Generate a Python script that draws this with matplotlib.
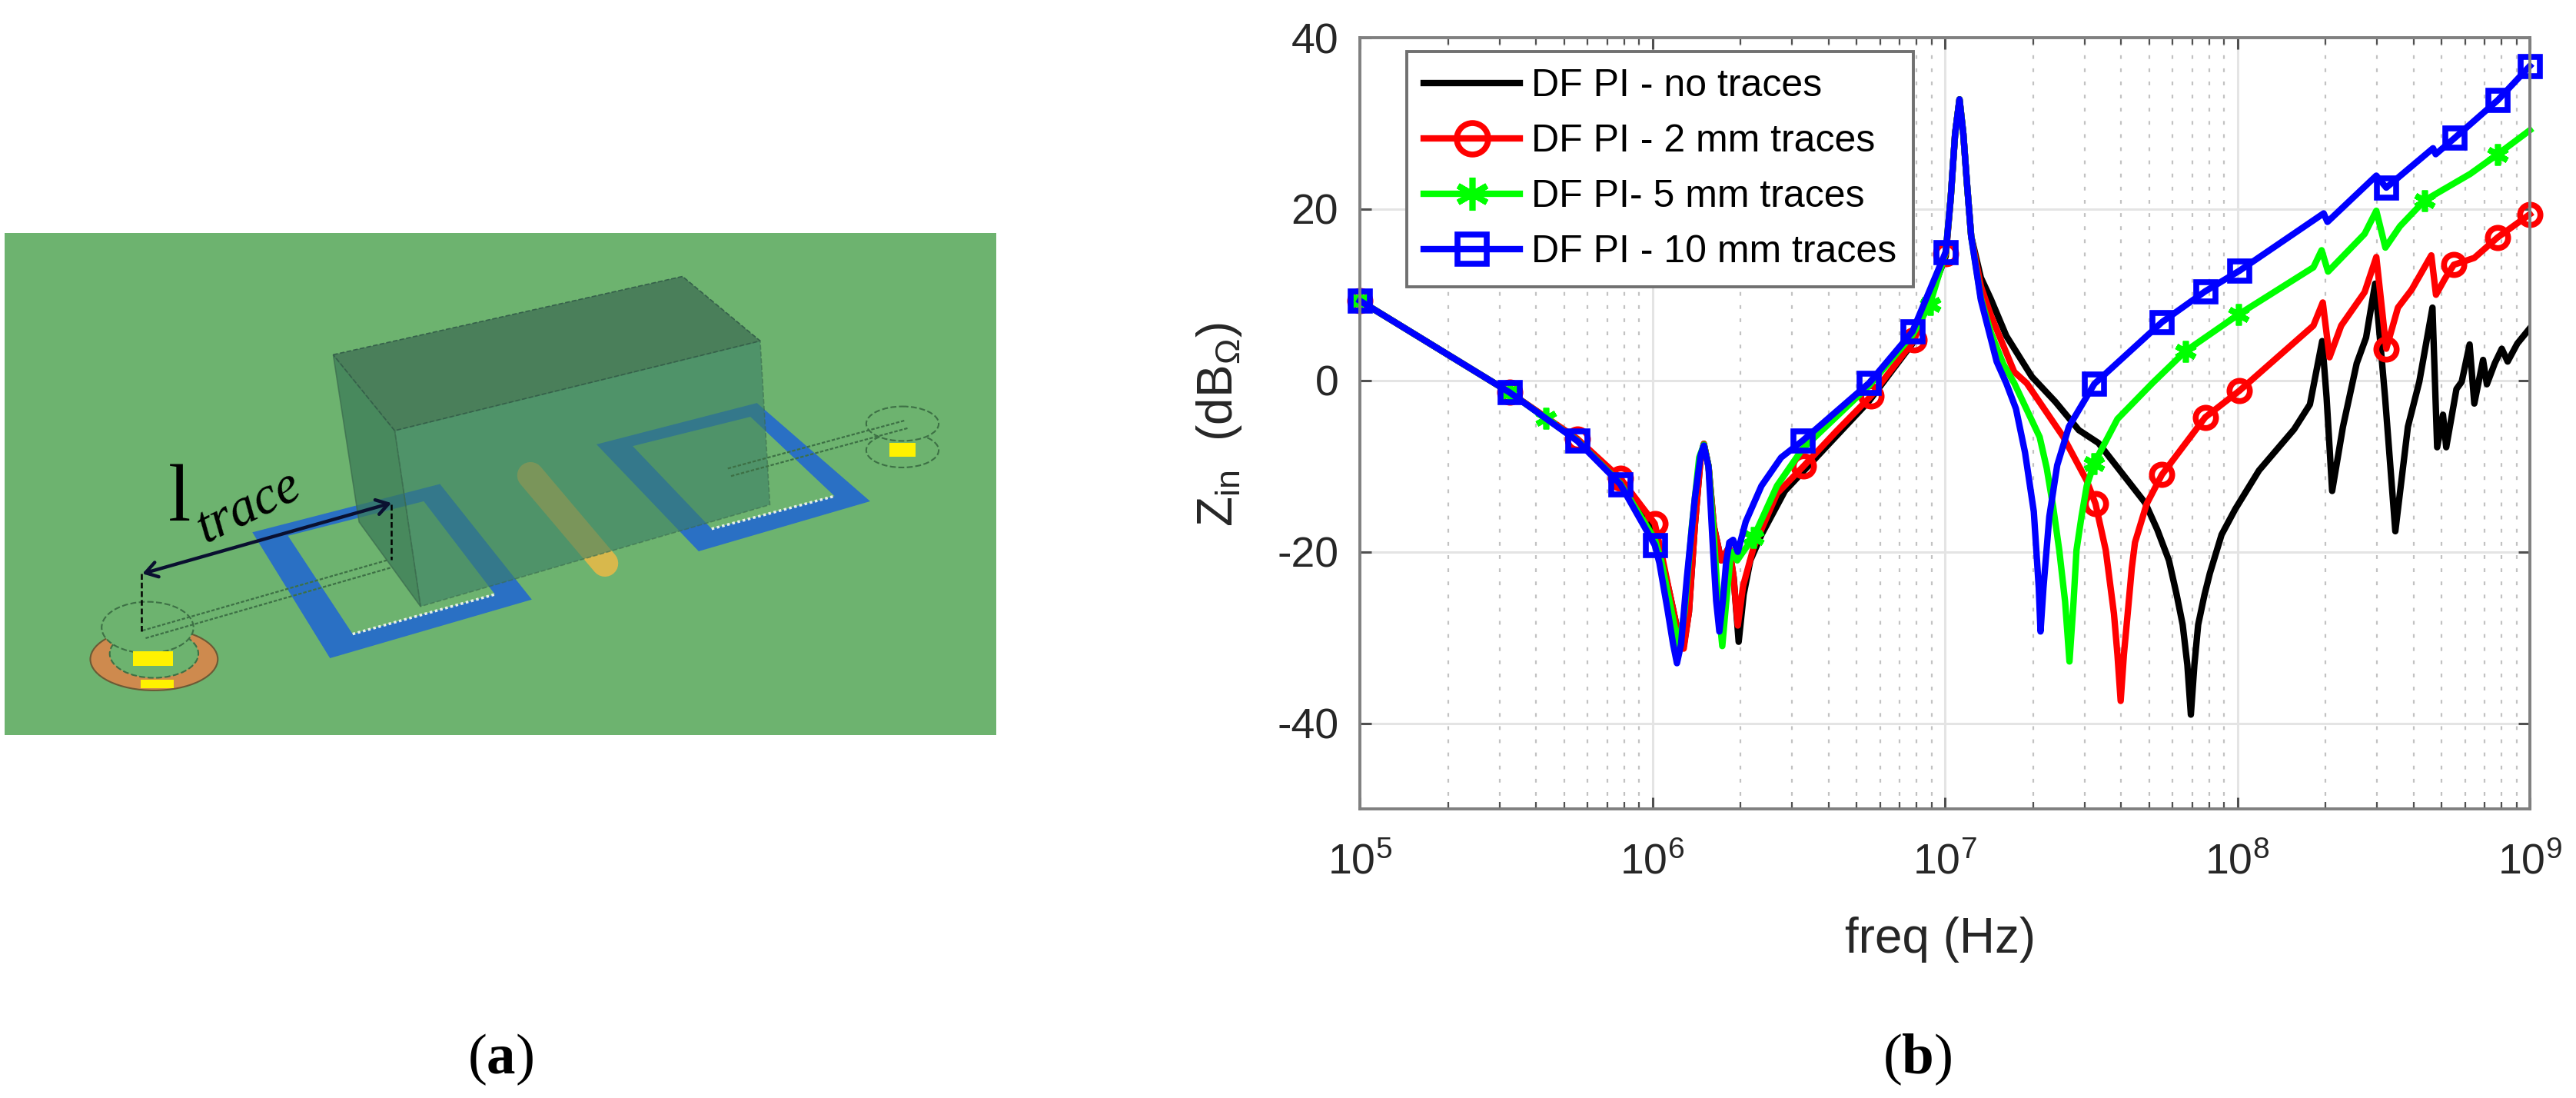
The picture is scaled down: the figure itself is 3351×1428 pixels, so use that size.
import numpy as np
import matplotlib
matplotlib.use("Agg")
import matplotlib.pyplot as plt
from matplotlib.patches import Polygon, Ellipse, PathPatch, Rectangle
from matplotlib.path import Path
from matplotlib.ticker import FixedLocator, FixedFormatter, NullFormatter

W, H = 3351, 1428

# curves: log10(freq in Hz) and Zin in dB
logf_black = [5.0, 5.512, 5.743, 5.89, 6.008, 6.03, 6.06, 6.085, 6.107, 6.125, 6.145, 6.165, 6.176, 6.192, 6.21, 6.235, 6.262, 6.278, 6.295,
              6.312, 6.335, 6.373, 6.453, 6.56, 6.741, 6.889, 7.003, 7.02, 7.035, 7.05, 7.063, 7.076, 7.09, 7.123, 7.157, 7.21, 7.297, 7.378, 7.458, 7.525,
              7.685, 7.726, 7.766, 7.793, 7.813, 7.829, 7.841, 7.853, 7.866, 7.887, 7.906, 7.946, 7.993, 8.074, 8.194, 8.248,
              8.29, 8.305, 8.324, 8.361, 8.408, 8.44, 8.471, 8.505, 8.54, 8.583, 8.622, 8.667, 8.683, 8.703, 8.714, 8.749, 8.767, 8.794,
              8.81, 8.84, 8.853, 8.88, 8.904, 8.924, 8.957, 9.0]
z_black = [9.3, -1.4, -6.9, -11.6, -17.5, -20.5, -25, -29, -31, -27, -17, -9, -7.4, -10, -17, -21, -19.5, -23, -30.5,
           -25, -21, -18, -12.9, -9, -2.4, 4.3, 14.5, 21.3, 28.8, 32.8, 28.8, 22.8, 16.8, 12, 9.5, 5.2, 0.45, -2.5, -5.8, -7.3,
           -14.3, -17.4, -21, -25.1, -28.5, -33.2, -39, -33.2, -28.5, -25.1, -22.5, -18, -15, -10.5, -5.7, -2.8,
           4.6, -2, -12.9, -5.4, 2, 5, 11.3, -2, -17.6, -5.4, -0.15, 8.5, -7.8, -4, -7.8, -1, -0.15, 4.2,
           -2.7, 2.4, -0.45, 2, 3.7, 2.2, 4.3, 6.1]

logf_red = [5.0, 5.512, 5.743, 5.89, 6.008, 6.03, 6.06, 6.085, 6.107, 6.125, 6.145, 6.165, 6.176, 6.192, 6.21, 6.235, 6.262, 6.276, 6.292,
            6.31, 6.346, 6.426, 6.517, 6.627, 6.748, 6.895, 7.003, 7.02, 7.035, 7.05, 7.063, 7.076, 7.09, 7.123, 7.157, 7.237, 7.28, 7.405, 7.485, 7.515,
            7.55, 7.578, 7.59, 7.601, 7.612, 7.625, 7.639, 7.65, 7.69, 7.742, 7.89, 8.007, 8.26, 8.292, 8.315, 8.355, 8.435, 8.475, 8.509,
            8.549, 8.596, 8.663, 8.679, 8.71, 8.74, 8.81, 8.89, 9.0]
z_red = [9.3, -1.4, -6.8, -11.4, -16.7, -20, -25, -29, -31.3, -27, -17, -9, -7.4, -10, -17, -21, -19.5, -22.5, -28.6,
         -24, -19.5, -13.2, -10, -6, -1.8, 4.7, 14.8, 21.3, 28.8, 32.8, 28.8, 22.8, 16.8, 11, 7.6, 1, -0.33, -6.6, -11.7, -14.4,
         -19.8, -27.2, -32, -37.4, -32, -27.2, -21.9, -18.9, -14.4, -11, -4.3, -1.2, 6.4, 9.1, 2.7, 6.4, 10.3, 14.4, 3.7,
         8.5, 10.6, 14.6, 10, 11.9, 13.5, 14.3, 16.7, 19.4]
mark_red = [5.0, 5.512, 5.743, 5.89, 6.008, 6.517, 6.748, 6.895, 7.003, 7.515, 7.742, 7.89, 8.007, 8.509, 8.74, 8.89, 9.0]

logf_green = [5.0, 5.512, 5.635, 5.743, 5.89, 6.008, 6.03, 6.06, 6.09, 6.11, 6.135, 6.16, 6.176, 6.192, 6.21, 6.225, 6.239, 6.252, 6.266, 6.277, 6.29, 6.31,
              6.346, 6.426, 6.513, 6.741, 6.889, 6.949, 7.003, 7.02, 7.035, 7.05, 7.063, 7.076, 7.09, 7.123, 7.157, 7.2, 7.237, 7.324, 7.348, 7.37, 7.391, 7.411, 7.426,
              7.44, 7.45, 7.467, 7.485, 7.51, 7.59, 7.71, 7.822, 8.004, 8.26, 8.288, 8.31, 8.435, 8.475, 8.506, 8.556, 8.64, 8.796, 8.89, 9.0]
z_green = [9.3, -1.4, -4.4, -7, -12, -18.5, -21, -26, -31, -27, -17, -9, -7.5, -10, -18, -26, -31, -26, -21, -20, -21, -20,
           -18.3, -12.3, -8, -0.6, 5.3, 8.9, 15, 21.3, 28.8, 32.8, 28.8, 22.8, 16.8, 9.6, 5.6, 1.9, -0.3, -6.6, -10.2, -14.7, -19.8, -25.8, -32.8,
           -25.8, -19.8, -15.9, -12.3, -9.7, -4.5, -0.3, 3.4, 7.7, 13.2, 15.2, 12.7, 17.1, 19.8, 15.5, 18, 21, 24.1, 26.4, 29.2]
mark_green = [5.0, 5.512, 5.635, 6.346, 6.949, 7.51, 7.822, 8.004, 8.64, 8.89]

logf_blue = [5.0, 5.512, 5.743, 5.89, 6.008, 6.024, 6.051, 6.071, 6.084, 6.098, 6.118, 6.145, 6.165, 6.176, 6.192, 6.205, 6.218, 6.229, 6.241, 6.252, 6.263, 6.276, 6.292, 6.319,
             6.373, 6.44, 6.513, 6.741, 6.889, 7.003, 7.02, 7.035, 7.05, 7.063, 7.076, 7.09, 7.123, 7.177, 7.21, 7.243, 7.274, 7.304, 7.321, 7.327,
             7.337, 7.357, 7.384, 7.424, 7.511, 7.742, 7.89, 8.007, 8.295, 8.308, 8.475, 8.509, 8.669, 8.678, 8.743, 8.89, 9.0]
z_blue = [9.3, -1.4, -7.05, -12.1, -19.2, -21.3, -26.6, -30.8, -33, -30.8, -23, -13.8, -8.7, -7.6, -10.1, -18.3, -25.7, -29.3, -25.7, -21.3, -18.9, -18.6, -20, -16.5,
          -12.3, -9, -7.05, -0.3, 5.7, 15, 21.3, 28.8, 32.8, 28.8, 22.8, 16.8, 9.4, 2.2, -0.33, -3.3, -8.4, -15.3, -24.2, -29.3,
          -24.2, -15.9, -9.9, -5.4, -0.4, 6.8, 10.4, 12.8, 19.5, 18.5, 23.9, 22.5, 27.1, 26.4, 28.3, 32.7, 36.7]
mark_blue = [5.0, 5.512, 5.743, 5.89, 6.008, 6.513, 6.741, 6.889, 7.003, 7.511, 7.742, 7.89, 8.007, 8.509, 8.743, 8.89, 9.0]

y_ticks = [-40, -20, 0, 20, 40]
y_ticklabels = ["-40", "-20", "0", "20", "40"]
x_ticks = [1e5, 1e6, 1e7, 1e8, 1e9]
names = ["DF PI - no traces", "DF PI - 2 mm traces", "DF PI- 5 mm traces", "DF PI - 10 mm traces"]

BG = "#6DB36F"


def frac_axes(fig, x0, y0, x1, y1):
    # pixel box of the picture -> figure fraction axes
    return fig.add_axes([x0 / W, 1 - y1 / H, (x1 - x0) / W, (y1 - y0) / H])


def marks_at(logf, marks):
    return [logf.index(m) for m in marks]


def draw_schematic(ax):
    # the drawing on the left, coordinates as in the zoomed crop
    ax.set_xlim(7, 1540)
    ax.set_ylim(1508, 52)
    ax.axis("off")
    ax.add_patch(Polygon([(7, 52), (1540, 52), (1540, 1508), (7, 1508)], fc=BG, ec="none", zorder=0))

    ring = "#2A70C4"
    for outer, inner in [([(390, 920), (680, 780), (822, 1115), (510, 1285)], [(445, 930), (655, 830), (765, 1100), (545, 1215)]),
                         ([(922, 665), (1170, 545), (1345, 830), (1080, 975)], [(978, 670), (1160, 585), (1290, 815), (1100, 910)])]:
        verts = outer + [outer[0]] + inner[::-1] + [inner[-1]]
        codes = [Path.MOVETO, Path.LINETO, Path.LINETO, Path.LINETO, Path.CLOSEPOLY] * 2
        ax.add_patch(PathPatch(Path(verts, codes), fc=ring, ec="none", zorder=1))
        ax.plot([inner[3][0], inner[2][0]], [inner[3][1], inner[2][1]], color="#E8F0E8", lw=2.5, ls=(0, (1, 1)), zorder=1.2)

    ax.plot([820, 935], [755, 1010], color="#D8B84C", lw=25, solid_capstyle="round", zorder=1.5)

    # box, see-through so the rings show
    ax.add_patch(Polygon([(610, 625), (1175, 365), (1190, 840), (650, 1135)], fc="#3B7F65", ec="#3B6B4E", alpha=0.6, lw=1.2, ls="--", zorder=2))
    ax.add_patch(Polygon([(515, 405), (610, 625), (650, 1135), (555, 890)], fc="#3A7A56", ec="#3B6B4E", alpha=0.72, lw=1.2, zorder=2))
    ax.add_patch(Polygon([(515, 405), (1055, 178), (1175, 365), (610, 625)], fc="#4A7F5A", ec="#35604A", lw=1.2, ls="--", zorder=2))

    # ports and traces
    ax.add_patch(Ellipse((238, 1288), 197, 181, fc="#CE8A4E", ec="#6B5A35", lw=1.5, zorder=3))
    ax.add_patch(Ellipse((238, 1272), 137, 140, fc=BG, ec="#3D7045", lw=1.5, ls="--", zorder=3.1))
    ax.add_patch(Ellipse((228, 1196), 142, 149, fc=BG, ec="#3D7045", lw=1.5, ls="--", zorder=3.2))
    ax.add_patch(Ellipse((1395, 682), 112, 100, fc=BG, ec="#3D7045", lw=1.5, ls="--", zorder=3))
    ax.add_patch(Ellipse((1395, 605), 112, 100, fc=BG, ec="#3D7045", lw=1.5, ls="--", zorder=3.1))
    for x, y, w, h in [(206, 1264, 61, 44), (217, 1348, 51, 25), (1375, 660, 40, 40)]:
        ax.add_patch(Rectangle((x, y), w, h, fc="#FFF200", ec="none", zorder=3.3))
    for dx, dy in [(0, 0), (5, 22)]:
        ax.plot(np.array([220, 600]) + dx, np.array([1205, 1000]) + dy, color="#3D7045", lw=1.6, ls=(0, (2, 1)), zorder=4)
        ax.plot(np.array([1125, 1400]) + dx, np.array([735, 595]) + dy, color="#3D7045", lw=1.6, ls=(0, (2, 1)), zorder=4)

    # dimension arrow and label
    ax.annotate("", xy=(220, 1040), xytext=(605, 835), zorder=5,
                arrowprops=dict(arrowstyle="<->,head_width=0.7,head_length=1.1", color="#0A1030", lw=3.2, shrinkA=0, shrinkB=0))
    ax.plot([218, 218], [1040, 1210], color="k", lw=1.8, ls=(0, (3, 1.5)), zorder=5)
    ax.plot([605, 605], [840, 1000], color="k", lw=1.8, ls=(0, (3, 1.5)), zorder=5)
    ax.text(277, 885, "l", family="Liberation Serif", fontsize=76, ha="center", va="baseline", color="k", zorder=5)
    ax.text(385, 848, "trace", family="Liberation Serif", style="italic", fontsize=50, rotation=26,
            ha="center", va="center", color="k", zorder=5)


def draw_plot(ax):
    ax.set_xscale("log")
    ax.set_xlim(1e5, 1e9)
    ax.set_ylim(-50, 40)

    ax.plot(10 ** np.array(logf_black), z_black, color="k", lw=6, solid_joinstyle="round", label=names[0])
    ax.plot(10 ** np.array(logf_red), z_red, color="#FF0000", lw=6, marker="o", ms=19, mfc="none", mew=5.5,
            markevery=marks_at(logf_red, mark_red), label=names[1], clip_on=False)
    ax.plot(10 ** np.array(logf_green), z_green, color="#00FF00", lw=6, marker=(6, 2, 0), ms=20, mew=5.5,
            markevery=marks_at(logf_green, mark_green), label=names[2], clip_on=False)
    ax.plot(10 ** np.array(logf_blue), z_blue, color="#0000FF", lw=6, marker="s", ms=18, mfc="none", mew=5.5,
            markevery=marks_at(logf_blue, mark_blue), label=names[3], clip_on=False)

    ax.xaxis.set_major_locator(FixedLocator(x_ticks))
    ax.xaxis.set_major_formatter(FixedFormatter([r"10$^{%d}$" % d for d in range(5, 10)]))
    minor = [m * 10.0 ** d for d in range(5, 9) for m in range(2, 10)]
    ax.xaxis.set_minor_locator(FixedLocator(minor))
    ax.xaxis.set_minor_formatter(NullFormatter())
    ax.yaxis.set_major_locator(FixedLocator(y_ticks))
    ax.yaxis.set_major_formatter(FixedFormatter(y_ticklabels))

    ax.grid(True, which="major", color="#E4E4E4", lw=2.2)
    ax.grid(True, which="minor", axis="x", color="#C2C2C2", lw=1.6, ls=(0, (2.2, 5.5)))
    ax.set_axisbelow(True)

    ax.tick_params(axis="x", which="major", pad=32)
    ax.tick_params(axis="y", which="major", pad=20)
    ax.tick_params(which="major", direction="in", length=11, width=2.2, color="#505050", top=True, right=True,
                   labelsize=40, labelcolor="#262626")
    ax.tick_params(which="minor", direction="in", length=6.5, width=1.6, color="#505050", top=True, bottom=True)
    for s in ax.spines.values():
        s.set_color("#808080")
        s.set_linewidth(2.8)

    leg = ax.legend(loc="upper left", bbox_to_anchor=((1830 - 1769) / (3291 - 1769), 1 - (67 - 49) / (1052 - 49)),
                    borderaxespad=0, fontsize=36, fancybox=False, framealpha=1, edgecolor="#707070", markerscale=1.55,
                    handlelength=2.5, handletextpad=0.3, labelspacing=0.52, borderpad=0.44, labelcolor="k")
    leg.get_frame().set_linewidth(2.8)

    ax.set_xlabel("freq (Hz)", fontsize=46, color="#262626")
    ax.xaxis.set_label_coords(0.4963, -0.14)
    ax.set_ylabel(r"Z$_{\mathrm{in}}$  (dB$_{\mathrm{Ω}}$)", fontsize=46, color="#262626")
    ax.yaxis.set_label_coords(-0.099, 0.498)


def main():
    plt.rcParams["font.family"] = ["Liberation Sans", "DejaVu Sans"]
    plt.rcParams["axes.unicode_minus"] = False
    plt.rcParams["mathtext.fontset"] = "custom"
    plt.rcParams["mathtext.rm"] = "Liberation Sans"
    plt.rcParams["mathtext.it"] = "Liberation Sans:italic"
    plt.rcParams["mathtext.bf"] = "Liberation Serif:bold"

    fig = plt.figure(figsize=(W / 100, H / 100), dpi=100, facecolor="white")

    draw_schematic(frac_axes(fig, 6, 303, 1296, 956))
    draw_plot(frac_axes(fig, 1769, 49, 3291, 1052))

    fig.text(2494 / W, 1 - 1378 / H, r"($\mathbf{b}$)", family="Liberation Serif", fontsize=54, ha="center", va="center", color="k")
    fig.text(651 / W, 1 - 1378 / H, r"($\mathbf{a}$)", family="Liberation Serif", fontsize=54, ha="center", va="center", color="k")

    fig.savefig("out.png", dpi=100)


if __name__ == "__main__":
    main()
